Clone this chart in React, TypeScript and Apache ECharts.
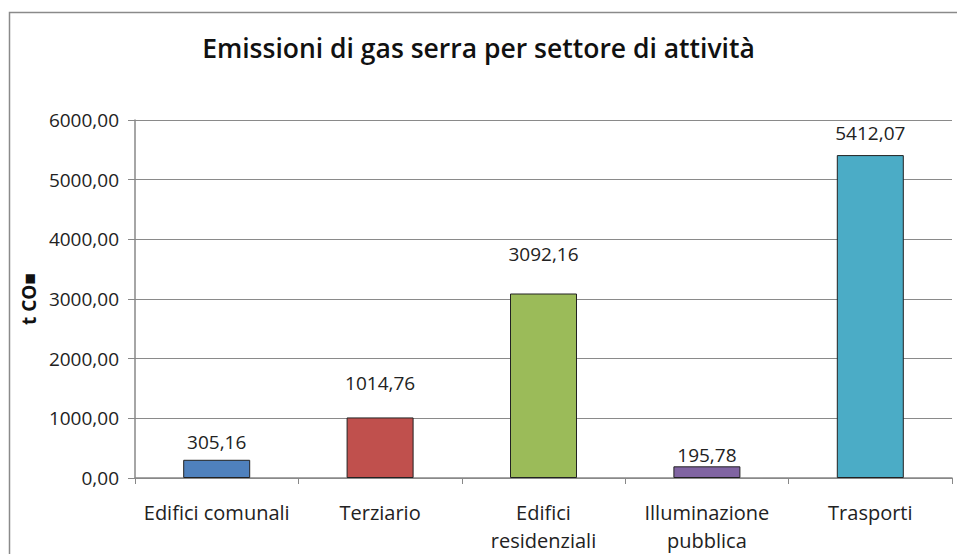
import React, { useEffect, useRef } from "react";
import * as echarts from "echarts";

const categories = ["Edifici comunali", "Terziario", "Edifici\nresidenziali", "Illuminazione\npubblica", "Trasporti"];
const values = [305.16, 1014.76, 3092.16, 195.78, 5412.07];
const colors = ["#4F81BD", "#C0504D", "#9BBB59", "#8064A2", "#4BACC6"];
const labelGaps = [0, 17, 22, -6, 5];
const yTicks = { min: 0, max: 6000, interval: 1000 };

const FONT = "Open Sans";

export default function App() {
  const ref = useRef<HTMLDivElement>(null);
  useEffect(() => {
    if (!ref.current) return;
    const chart = echarts.init(ref.current, null, { renderer: "svg" });
    const fmt = (v: number) => v.toFixed(2).replace(".", ",");
    chart.setOption({
      animation: false,
      backgroundColor: "#fff",
      textStyle: { fontFamily: FONT },
      title: {
        text: "Emissioni di gas serra per settore di attività",
        left: "center",
        top: 29,
        textStyle: { fontFamily: FONT, fontSize: 26.5, fontWeight: 600, color: "#111" },
      },
      graphic: [
        {
          type: "rect",
          shape: { x: 9.5, y: 12.5, width: 1000, height: 1000 },
          style: { fill: "none", stroke: "#8a8a8a", lineWidth: 1.5 },
          silent: true,
        },
      ],
      grid: { left: 135, top: 120, right: 5, bottom: 76, containLabel: false },
      xAxis: {
        type: "category",
        data: categories,
        axisLine: { lineStyle: { color: "#888", width: 1.5 } },
        axisTick: { show: true, length: 6, lineStyle: { color: "#888" }, alignWithLabel: false },
        axisLabel: { color: "#222", fontSize: 20, fontFamily: FONT, margin: 20, lineHeight: 28, interval: 0 },
      },
      yAxis: {
        type: "value",
        min: yTicks.min,
        max: yTicks.max,
        interval: yTicks.interval,
        name: "t CO■",
        nameLocation: "middle",
        nameGap: 97,
        nameRotate: 90,
        nameTextStyle: { fontFamily: FONT, fontSize: 19, fontWeight: "bold", color: "#111" },
        axisLine: { show: true, lineStyle: { color: "#888", width: 1.5 } },
        axisTick: { show: true, length: 7, lineStyle: { color: "#888" } },
        splitLine: { lineStyle: { color: "#8a8a8a", width: 1.2 } },
        axisLabel: { color: "#222", fontSize: 19, fontFamily: FONT, margin: 16, formatter: (v: number) => fmt(v) },
      },
      series: [
        {
          type: "bar",
          barWidth: 67,
          data: values.map((v, i) => ({
            value: v,
            itemStyle: { color: colors[i], borderColor: "#222", borderWidth: 1 },
            label: { distance: 8 + labelGaps[i] },
          })),
          label: {
            show: true,
            position: "top",
            color: "#222",
            fontSize: 19,
            fontFamily: FONT,
            formatter: (p: any) => fmt(p.value),
          },
        },
      ],
    });
    return () => chart.dispose();
  }, []);
  return <div ref={ref} style={{ position: "fixed", left: 0, top: 0, width: 957, height: 554 }} />;
}
